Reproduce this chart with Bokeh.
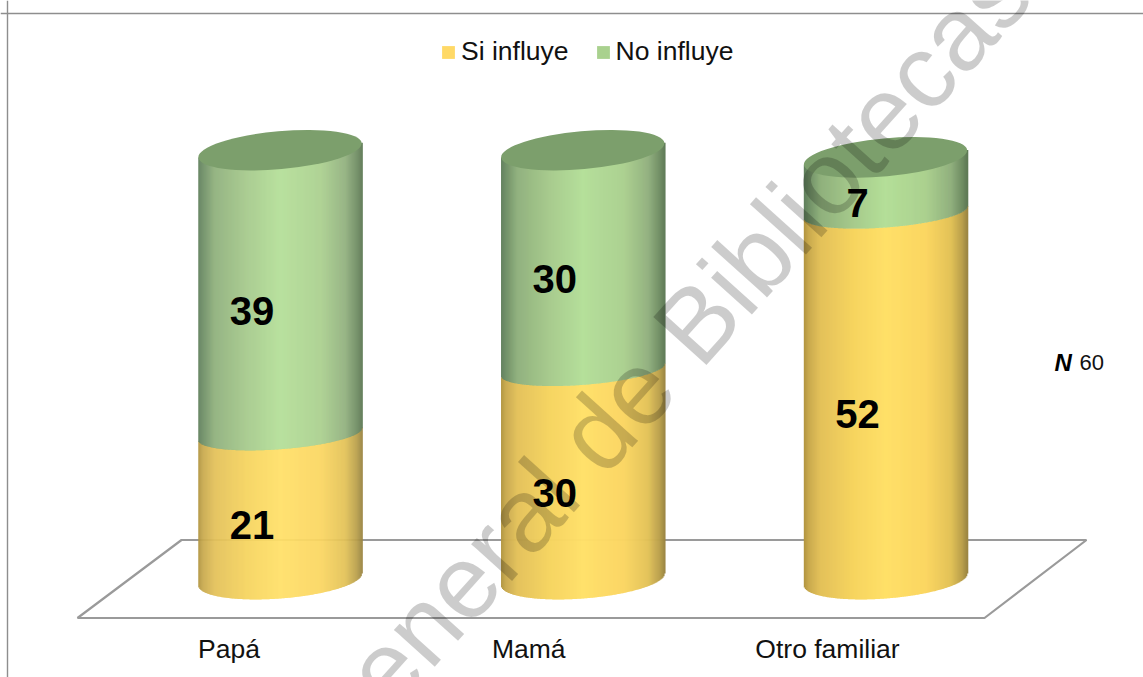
import numpy as np
from bokeh.core.properties import value
from bokeh.embed import file_html
from bokeh.models import Legend, LegendItem, Span, Range1d
from bokeh.plotting import figure
from bokeh.resources import INLINE

categories = ["Papá", "Mamá", "Otro familiar"]
si_influye = [21, 30, 52]
no_influye = [39, 30, 7]
series_names = ["Si influye", "No influye"]
n_label = "60"
watermark = "General de Bibliotecas"

W, H = 1143, 677
PX_X = 302.75          # pixels per category step
X0 = 279.5             # pixel of first category
PX_Y = 7.155           # pixels per count
Y0 = 579.0             # pixel of count 0
R = 81.7               # cylinder half width, px

YEL = [(0, "#b0943f"), (.03, "#c9aa4e"), (.1, "#e3c15a"), (.3, "#f6d45f"), (.5, "#ffe068"),
       (.75, "#fbd662"), (.9, "#e2c258"), (.97, "#b99f4b"), (1, "#9c8642")]
GRN = [(0, "#5f7f5c"), (.03, "#6f8f66"), (.1, "#8fb07c"), (.3, "#a6ca8c"), (.5, "#b4df98"),
       (.75, "#abd08f"), (.9, "#91b07e"), (.97, "#6f8d63"), (1, "#5e7a55")]


def shade(stops, f):
    pos = [s[0] for s in stops]
    chans = [[int(s[1][i:i + 2], 16) for s in stops] for i in (1, 3, 5)]
    return "#%02x%02x%02x" % tuple(int(round(np.interp(f, pos, c))) for c in chans)


def px_x(px):
    return (px - X0) / PX_X


def px_y(px):
    return (Y0 - px) / PX_Y


p = figure(width=W, height=H, output_backend="svg", toolbar_location=None,
           x_range=Range1d(px_x(0), px_x(W)), y_range=Range1d(px_y(H), px_y(0)),
           x_axis_type=None, y_axis_type=None, min_border=0,
           outline_line_color=None, margin=0)
p.grid.visible = False

# chart frame (top and left only, as in the picture)
GREY = "#8e8e8e"
p.add_layout(Span(location=px_y(13), dimension="width", line_color=GREY, line_width=1.4, level="underlay"))
p.add_layout(Span(location=px_x(7), dimension="height", line_color=GREY, line_width=1.4, level="underlay"))

# floor
floor_x = [181, 77, 984, 1086]
floor_y = [539.5, 617.5, 617.5, 539.5]
p.patch([px_x(v) for v in floor_x], [px_y(v) for v in floor_y], fill_color="white",
        line_color="#9a9a9a", line_width=2.2)

# cylinders as vertical strips, heights taken from the data
dxs = np.arange(-R, R, 1.0)
TILT = 0.074
L, B, C = [], [], []
for i, (a, b) in enumerate(zip(si_influye, no_influye)):
    for dx in dxs:
        mid = dx + 0.5
        f = (mid + R) / (2 * R)
        arc = np.sqrt(max(0.0, 1 - (mid / R) ** 2))
        bottom = 0 - (19 * arc - TILT * mid) / PX_Y
        seam = a - (5 + 15 * arc - TILT * mid) / PX_Y
        top = a + b + (0.09 * mid) / PX_Y
        L.append(i + dx / PX_X)
        B.append((bottom, seam, top))
        C.append((shade(YEL, f), shade(GRN, f)))
L = np.array(L)
R_ = L + 1.5 / PX_X
B = np.array(B)
p.quad(left=L, right=R_, bottom=B[:, 0], top=B[:, 1] + 0.05, fill_color=[c[0] for c in C], line_color=None)
p.quad(left=L, right=R_, bottom=B[:, 1], top=B[:, 2], fill_color=[c[1] for c in C], line_color=None)

# top caps
totals = [a + b for a, b in zip(si_influye, no_influye)]
p.ellipse(x=list(range(3)), y=totals, width=2 * R + 0.5, height=38, width_units="screen", height_units="screen",
          angle=0.0898, fill_color="#7c9f6c", line_color=None)

# data labels
font = value("Liberation Sans")
lx, ly, lt = [], [], []
for i in range(3):
    lx += [i, i]
    ly += [si_influye[i] / 2, si_influye[i] + no_influye[i] / 2]
    lt += [str(si_influye[i]), str(no_influye[i])]
p.text(lx, ly, text=lt, x_offset=-28, y_offset=21, text_align="center", text_baseline="middle",
       text_font=font, text_font_style="bold", text_font_size="40px", text_color="black")

# category labels
p.text([0, 1, 2], [0, 0, 0], text=categories, x_offset=[-51, -54, -58], y_offset=69, text_align="center",
       text_baseline="middle", text_font=font, text_font_size="26.5px", text_color="#111111")

# N 60
p.text([px_x(1054)], [px_y(362)], text=["N"], text_baseline="middle", text_font=font,
       text_font_style="bold italic", text_font_size="24px", text_color="black")
p.text([px_x(1079)], [px_y(362)], text=[n_label], text_baseline="middle", text_font=font,
       text_font_size="22px", text_color="#111111")

# legend
r1 = p.quad(left=[np.nan], right=[np.nan], bottom=[np.nan], top=[np.nan], fill_color="#ffd966", line_color=None)
r2 = p.quad(left=[np.nan], right=[np.nan], bottom=[np.nan], top=[np.nan], fill_color="#a9d18e", line_color=None)
legend = Legend(items=[LegendItem(label=series_names[0], renderers=[r1]),
                       LegendItem(label=series_names[1], renderers=[r2])],
                orientation="horizontal", location=(440, H - 67), background_fill_alpha=0,
                border_line_color=None, label_text_font="Liberation Sans", label_text_font_size="26.5px",
                label_text_color="#111111", glyph_width=16, glyph_height=16, label_standoff=5,
                spacing=26, padding=6, margin=0)
p.add_layout(legend, "center")

# watermark
p.text([px_x(1010)], [px_y(-27)], text=[watermark], angle=np.radians(48), text_align="right",
       text_baseline="alphabetic", text_font=font, text_font_size="104px", text_color="black", text_alpha=0.2)

open("out.html", "w").write(file_html(p, INLINE))
